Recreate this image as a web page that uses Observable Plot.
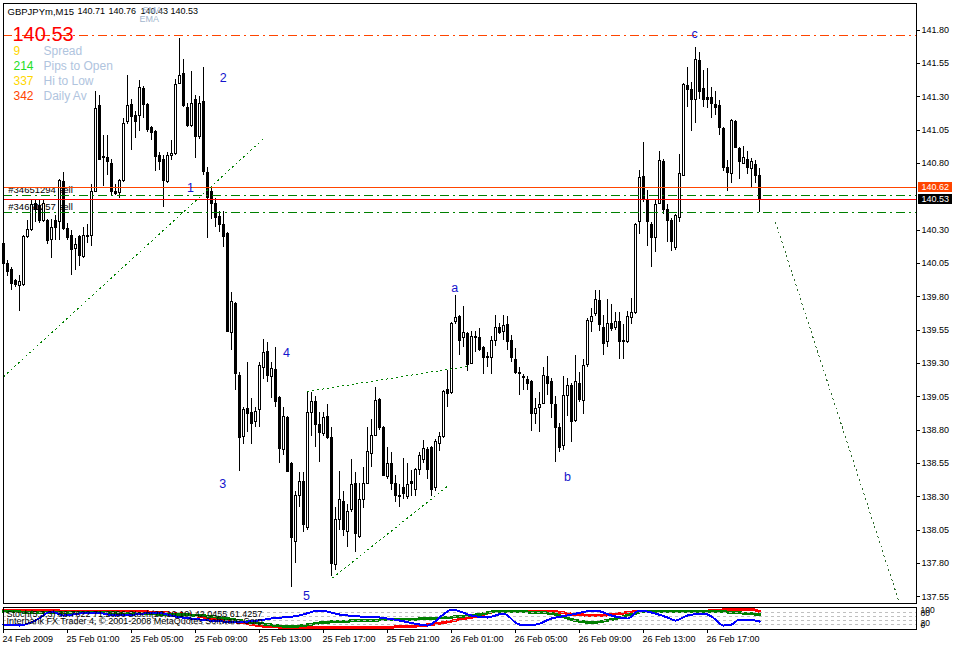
<!DOCTYPE html>
<html><head><meta charset="utf-8">
<script src="https://cdn.jsdelivr.net/npm/d3@7"></script>
<script src="https://cdn.jsdelivr.net/npm/@observablehq/plot@0.6"></script>
<style>
html,body{margin:0;padding:0;background:#fff;}
#chart{width:953px;height:646px;overflow:hidden;}
#chart svg{display:block;shape-rendering:crispEdges;}
</style>
</head><body><div id="chart"></div>
<script>
// ---------- DATA (GBPJPYm, M15, one candle per bar index) ----------
const opens = [
140.20,140.05,140.00,139.92,139.88,139.89,140.25,140.30,140.50,140.48,
140.37,140.37,140.23,140.37,140.36,140.66,140.31,140.26,140.16,140.25,
140.10,140.25,140.26,140.59,141.23,140.84,140.84,140.80,140.59,140.58,
140.67,141.11,141.24,141.16,141.16,141.36,141.24,141.07,141.04,140.86,
140.83,140.66,140.86,140.87,141.40,141.47,141.22,141.08,141.28,141.00,
141.26,140.73,140.59,140.50,140.40,140.34,140.27,139.53,139.75,139.21,
138.75,138.96,138.93,138.86,138.95,139.27,139.39,139.20,139.25,139.04,
138.65,138.89,138.55,137.96,138.31,138.41,138.07,138.93,139.01,138.84,
138.77,138.90,138.74,137.79,138.13,138.26,138.04,138.20,138.40,138.00,
138.28,138.40,138.62,138.76,139.03,138.82,138.45,138.55,138.40,138.31,
138.37,138.30,138.41,138.35,138.50,138.58,138.65,138.67,138.37,138.70,
138.75,139.10,139.08,139.61,139.65,139.49,139.52,139.30,139.50,139.49,
139.42,139.34,139.34,139.47,139.57,139.54,139.59,139.47,139.33,139.22,
139.20,139.18,139.16,138.92,138.97,139.00,139.20,139.16,138.99,138.82,
138.68,139.06,139.13,138.87,139.15,139.02,139.29,139.61,139.67,139.77,
139.57,139.46,139.60,139.57,139.61,139.47,139.46,139.64,139.68,140.36,
140.70,140.53,140.34,140.24,140.50,140.81,140.45,140.37,140.17,140.39,
140.71,141.38,141.35,141.28,141.57,141.36,141.29,141.29,141.24,141.23,
141.06,140.77,140.72,141.11,140.91,140.80,140.83,140.76,140.79,140.71];
const highs = [
140.26,140.07,140.02,139.93,139.96,140.26,140.37,140.52,140.53,140.53,
140.52,140.38,140.38,140.41,140.68,140.73,140.35,140.30,140.24,140.26,
140.32,140.34,140.64,141.34,141.31,141.01,141.01,140.83,140.64,140.68,
141.14,141.46,141.28,141.19,141.42,141.38,141.25,141.08,141.05,140.88,
140.86,140.88,140.97,141.43,141.74,141.58,141.25,141.49,141.31,141.30,
141.52,140.77,140.63,140.54,140.44,140.44,140.28,139.83,139.76,139.23,
138.97,139.31,139.04,138.97,139.31,139.48,139.46,139.31,139.42,139.05,
138.97,138.90,138.56,138.34,138.48,138.48,139.09,139.08,139.05,138.93,
138.93,138.99,138.82,138.22,138.49,138.34,138.24,138.58,138.48,138.40,
138.52,138.82,138.88,139.12,139.04,138.83,138.67,138.63,138.46,138.39,
138.59,138.55,138.50,138.51,138.63,138.72,138.67,138.68,138.73,138.78,
139.10,139.25,139.61,139.81,139.66,139.73,139.53,139.54,139.54,139.56,
139.43,139.38,139.50,139.66,139.60,139.66,139.65,139.51,139.41,139.27,
139.22,139.20,139.17,139.04,139.08,139.27,139.35,139.19,139.05,138.85,
139.20,139.19,139.15,139.36,139.23,139.33,139.64,139.71,139.85,139.85,
139.66,139.78,139.74,139.68,139.68,139.59,139.69,139.79,140.35,140.75,
140.96,140.60,140.36,140.53,140.89,140.83,140.49,140.39,140.42,140.87,
141.40,141.52,141.41,141.67,141.63,141.50,141.51,141.37,141.34,141.27,
141.07,140.82,141.13,141.12,140.92,140.93,140.89,140.84,140.82,140.76];
const lows = [
139.99,139.95,139.85,139.87,139.69,139.88,140.24,140.29,140.36,140.35,
140.36,140.19,140.09,140.22,140.22,140.30,140.22,139.96,140.00,140.03,
140.09,140.20,140.18,140.58,140.82,140.63,140.71,140.56,140.56,140.54,
140.66,141.09,140.90,140.99,141.04,141.14,141.03,140.97,140.74,140.75,
140.47,140.65,140.82,140.86,141.39,141.22,141.07,141.07,140.84,140.98,
140.71,140.24,140.38,140.32,140.28,140.17,139.53,139.40,139.10,138.49,
138.69,138.78,138.69,138.82,138.82,139.18,139.16,139.04,138.97,138.55,
138.61,138.48,137.62,137.80,138.22,138.03,138.05,138.75,138.67,138.56,
138.75,138.73,137.70,137.75,138.05,138.00,137.92,138.18,137.88,137.99,
138.21,138.39,138.52,138.75,138.80,138.45,138.43,138.35,138.26,138.22,
138.28,138.28,138.30,138.30,138.46,138.55,138.43,138.30,138.34,138.64,
138.74,138.97,139.07,139.59,139.36,139.42,139.24,139.29,139.38,139.39,
139.22,139.27,139.22,139.43,139.52,139.47,139.40,139.31,139.22,139.06,
139.10,139.10,138.79,138.84,138.78,138.99,139.06,138.89,138.56,138.63,
138.65,138.90,138.71,138.86,139.01,138.92,139.27,139.53,139.65,139.54,
139.36,139.42,139.54,139.55,139.33,139.33,139.45,139.59,139.67,140.27,
140.51,140.18,140.02,140.13,140.49,140.42,140.21,140.14,140.15,140.36,
140.70,141.22,141.04,141.10,141.28,141.22,141.21,141.14,141.16,141.01,
140.74,140.59,140.65,140.91,140.68,140.79,140.72,140.62,140.65,140.43];
const closes = [
140.05,139.99,139.90,139.89,139.91,140.25,140.30,140.49,140.45,140.37,
140.50,140.22,140.32,140.32,140.67,140.31,140.24,140.15,140.19,140.11,
140.26,140.26,140.59,141.21,140.83,140.85,140.81,140.59,140.57,140.67,
141.10,141.23,141.15,141.11,141.37,141.24,141.05,141.03,140.85,140.81,
140.67,140.86,140.87,141.39,141.46,141.23,141.08,141.25,141.00,141.25,
140.74,140.54,140.50,140.39,140.34,140.25,139.54,139.76,139.22,138.74,
138.95,138.92,138.85,138.94,139.28,139.38,139.21,139.26,139.01,138.66,
138.90,138.49,137.99,138.31,138.41,138.09,138.93,139.01,138.84,138.78,
138.89,138.74,137.80,138.13,138.28,138.05,138.19,138.39,138.02,138.28,
138.40,138.64,138.76,139.02,138.82,138.46,138.55,138.40,138.31,138.30,
138.32,138.39,138.40,138.50,138.61,138.66,138.50,138.35,138.71,138.75,
139.09,139.07,139.60,139.64,139.47,139.53,139.29,139.50,139.49,139.40,
139.34,139.35,139.47,139.57,139.53,139.58,139.46,139.34,139.23,139.23,
139.19,139.15,138.92,138.96,138.99,139.21,139.15,139.00,138.82,138.67,
139.06,139.13,138.86,139.16,139.03,139.28,139.62,139.65,139.78,139.59,
139.45,139.60,139.56,139.61,139.46,139.46,139.65,139.68,140.34,140.69,
140.53,140.36,140.24,140.49,140.82,140.45,140.37,140.21,140.41,140.72,
141.39,141.35,141.28,141.58,141.34,141.28,141.28,141.25,141.22,141.07,
140.77,140.73,141.12,140.92,140.81,140.84,140.77,140.81,140.71,140.53];

const timeTickBars = [0,16,32,48,64,80,96,112,128,144,160,176];
const timeTickLabels = ["24 Feb 2009","25 Feb 01:00","25 Feb 05:00","25 Feb 09:00","25 Feb 13:00","25 Feb 17:00","25 Feb 21:00","26 Feb 01:00","26 Feb 05:00","26 Feb 09:00","26 Feb 13:00","26 Feb 17:00"];
const priceTicks = [141.80,141.55,141.30,141.05,140.80,140.30,140.05,139.80,139.55,139.30,139.05,138.80,138.55,138.30,138.05,137.80,137.55];

const symbolLabel = "GBPJPYm,M15";
const dayHighLevel = 141.76;
const orderLevels = [140.62, 140.53];
const stopLevels = [140.56, 140.43];
const orderIds = ["#34651294 sell", "#34651257 sell"];
const orderLabelBars = [1.2, 1.2];
const orderLabelPrices = [140.60, 140.475];

const infoValues = ["9", "214", "337", "342"];
const infoNames = ["Spread", "Pips to Open", "Hi to Low", "Daily Av"];

const waveNames = ["1","2","3","4","5","a","b","c"];
const waveBars = [46.75, 54.9, 54.8, 70.75, 75.75, 112.8, 141.0, 172.8];
const wavePrices = [140.62, 141.44, 138.40, 139.38, 137.56, 139.87, 138.45, 141.77];

const trendBar1 = [0, 75.9, 82.2, 193.0];
const trendPrice1 = [139.20, 139.09, 137.69, 140.36];
const trendBar2 = [65.5, 116.3, 111.0, 223.75];
const trendPrice2 = [141.00, 139.28, 138.38, 137.525];

// indicator sub-window (oscillator, 0..100)
const redBars = [0,12,24,32,39,46,52,59,66,74,87,99,107,114,119,123,132,137,143,149,154,159,169,177,182,187,189];
const redVals = [90,88,85,85,80,70,50,30,10,5,5,8,20,45,65,85,85,85,70,65,75,85,85,88,95,95,85];
const greenBars = [0,12,24,32,46,52,59,66,72,80,90,99,107,114,119,123,132,137,143,147,152,157,160,170,177,183,189];
const greenVals = [85,80,80,75,68,60,40,20,10,30,40,45,50,60,70,85,82,75,40,30,45,70,85,85,85,80,70];
const blueBars = [0,4,8,12,15,19,23,28,33,38,43,49,55,61,67,74,79,84,89,94,99,104,106,110,112,117,121,125,129,133,137,141,148,152,156,159,162,166,168,171,175,177,180,182,184,186,189];
const blueVals = [20,15,40,85,65,75,80,65,70,80,60,45,35,35,50,65,90,70,60,55,40,20,15,70,95,65,55,75,20,20,50,65,90,65,50,90,80,55,40,65,75,60,15,20,45,45,35];
const indLevels = [80, 60, 40, 20];
const indScaleLabels = ["100", "80", "20", "0"];
const indText1 = "Stoch(5,3,3) 86.7622 71.2096 Stoch(20,10,10) 42.0455 61.4257";
const indText2 = "Interbank FX Trader 4, \u00A9 2001-2008 MetaQuotes Software Corp.";

// ---------- BUILD ----------
const FONT = "'Liberation Sans', Arial, sans-serif";
const last = closes.length - 1;
const bars = opens.map((o, i) => ({i, o, h: highs[i], l: lows[i], c: closes[i]}));
const upBars = bars.filter(d => d.c >= d.o);
const downBars = bars.filter(d => d.c < d.o);
const orders = orderIds.map((t, k) => ({t, x: orderLabelBars[k], y: orderLabelPrices[k]}));
const waves = waveNames.map((t, k) => ({t, x: waveBars[k], y: wavePrices[k]}));
const trends = trendBar1.map((b, k) => ({x1: b, y1: trendPrice1[k], x2: trendBar2[k], y2: trendPrice2[k], k}));
const X_DOMAIN = [0, 228.25];

const at = (txt, px, py, o = {}) => Plot.text([txt], {
  frameAnchor: "top-left", dx: px - 3, dy: py - 3, textAnchor: "start", lineAnchor: "middle", ...o
});

const headerNums = [opens[last], highs[last], lows[last], closes[last]].map(v => v.toFixed(2));
const headerX = [77, 108, 140, 170];
const infoColors = ["#FFD700", "#22DD22", "#FFD700", "#FF4500"];
const infoY = [51, 66, 81, 96];
const tagPrices = [orderLevels[0], closes[last]];
const tagColors = ["#FF4500", "#000000"];

const main = Plot.plot({
  width: 953, height: 604,
  marginTop: 3, marginBottom: 1, marginLeft: 3, marginRight: 37,
  style: {fontFamily: FONT, fontSize: "9px", background: "white", color: "black", overflow: "visible"},
  x: {domain: X_DOMAIN, axis: null},
  y: {domain: [137.5, 142.0], axis: "right", ticks: priceTicks, tickFormat: d => d.toFixed(2), tickSize: 3, tickPadding: 2, label: null},
  marks: [
    Plot.text(orders, {x: "x", y: "y", text: "t", textAnchor: "start", fontSize: 9.5, fill: "black"}),
    Plot.ruleX(bars, {x: "i", y1: "l", y2: "h", stroke: "black", strokeWidth: 1}),
    Plot.rect(upBars, {x1: d => d.i - 0.25, x2: d => d.i + 0.25, y1: "o", y2: "c", fill: "white", stroke: "black", strokeWidth: 1}),
    Plot.rect(downBars, {x1: d => d.i - 0.25, x2: d => d.i + 0.25, y1: "o", y2: "c", fill: "black", stroke: "black", strokeWidth: 1}),
    Plot.ruleY([dayHighLevel], {stroke: "#FF4500", strokeWidth: 1, strokeDasharray: "9,4,2,4"}),
    Plot.ruleY(stopLevels, {stroke: "#008000", strokeWidth: 1, strokeDasharray: "9,4,2,4"}),
    Plot.ruleY([orderLevels[0]], {stroke: "#FF4500", strokeWidth: 1}),
    Plot.ruleY([orderLevels[1]], {stroke: "#FF0000", strokeWidth: 1}),
    Plot.link(trends.filter(d => d.k < 3), {x1: "x1", y1: "y1", x2: "x2", y2: "y2", stroke: "#008000", strokeWidth: 1, strokeDasharray: "2,3"}),
    Plot.link(trends.filter(d => d.k === 3), {x1: "x1", y1: "y1", x2: "x2", y2: "y2", stroke: "#2e6b2e", strokeWidth: 1, strokeDasharray: "2,3"}),
    Plot.text(waves, {x: "x", y: "y", text: "t", fill: "#1414CC", fontSize: 12.5}),
    Plot.frame({stroke: "black"}),
    at(symbolLabel, 7, 11, {fontSize: 9.5, fill: "black"}),
    ...headerNums.map((t, k) => at(t, headerX[k], 11, {fontSize: 9, fill: "black"})),
    at("SMA", 142, 10, {fontSize: 9, fill: "#A2B5CD"}),
    at("EMA", 139, 19, {fontSize: 9, fill: "#A2B5CD"}),
    at(closes[last].toFixed(2), 12, 34, {fontSize: 20, fill: "#FF0000"}),
    ...infoValues.map((t, k) => at(t, 13, infoY[k], {fontSize: 12, fill: infoColors[k]})),
    ...infoNames.map((t, k) => at(t, 43, infoY[k], {fontSize: 12, fill: "#B0C4DE"})),
    ...tagPrices.map((p, k) => Plot.rect([p], {x1: X_DOMAIN[1], x2: X_DOMAIN[1], y1: d => d - 0.036, y2: d => d + 0.036, insetLeft: 1.5, insetRight: -36, fill: tagColors[k]})),
    Plot.text(tagPrices, {x: X_DOMAIN[1], y: d => d, text: d => d.toFixed(2), dx: 5, textAnchor: "start", fill: "white", fontSize: 9})
  ]
});

const at2 = (txt, px, py, o = {}) => Plot.text([txt], {
  frameAnchor: "top-left", dx: px - 3, dy: py - 604 - 3, textAnchor: "start", lineAnchor: "middle", ...o
});
const atR = (txt, py) => Plot.text([txt], {
  frameAnchor: "top-right", dx: 4, dy: py - 604 - 3, textAnchor: "start", lineAnchor: "middle", fontSize: 8.5, fill: "black"
});

const series = (bs, vs) => bs.map((b, k) => ({b, v: vs[k]}));
const ind = Plot.plot({
  width: 953, height: 42,
  marginTop: 3, marginBottom: 17, marginLeft: 3, marginRight: 37,
  style: {fontFamily: FONT, fontSize: "9px", background: "white", color: "black", overflow: "visible"},
  x: {domain: X_DOMAIN, axis: null},
  y: {domain: [-5, 105], axis: null},
  marks: [
    Plot.line(series(redBars, redVals), {x: "b", y: "v", stroke: "#FF0000", strokeWidth: 3, curve: "monotone-x"}),
    Plot.line(series(greenBars, greenVals), {x: "b", y: "v", stroke: "#008000", strokeWidth: 3, curve: "monotone-x"}),
    Plot.ruleY(indLevels, {stroke: "#C0C0C0", strokeWidth: 1, strokeDasharray: "3,3"}),
    Plot.line(series(blueBars, blueVals), {x: "b", y: "v", stroke: "#0000FF", strokeWidth: 2, curve: "monotone-x"}),
    at2(indText1, 6, 614, {fontSize: 9, fill: "black"}),
    at2(indText2, 6, 621, {fontSize: 9, fill: "black"}),
    atR(indScaleLabels[0], 610), atR(indScaleLabels[1], 613), atR(indScaleLabels[2], 623), atR(indScaleLabels[3], 625),
    Plot.frame({stroke: "black"}),
    Plot.ruleX(timeTickBars, {x: d => d, y1: -5, y2: -25, stroke: "black"}),
    Plot.text(timeTickLabels, {x: (d, k) => timeTickBars[k], frameAnchor: "bottom", dy: 12.5, dx: -1, textAnchor: "start", fontSize: 9, fill: "black"})
  ]
});

const root = document.getElementById("chart");
root.appendChild(main);
root.appendChild(ind);
</script>
</body></html>
